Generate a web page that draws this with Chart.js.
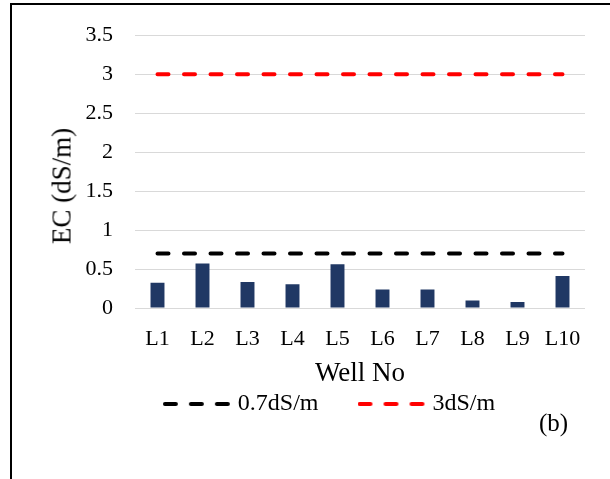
<!DOCTYPE html>
<html>
<head>
<meta charset="utf-8">
<script src="https://cdn.jsdelivr.net/npm/chart.js@4/dist/chart.umd.min.js"></script>
<style>
  html, body { margin: 0; padding: 0; width: 610px; height: 479px; overflow: hidden; background: #fff; }
  #frame { position: absolute; left: 10px; top: 3px; width: 1000px; height: 1000px; border: 2px solid #000; }
  #myChart { position: absolute; left: 45px; top: 0; }
  #tag { position: absolute; left: 539px; top: 409px; font: 25px "Liberation Serif", serif; color: #000; }
  #yTitle {
    position: absolute; left: 62px; top: 186px;
    transform: translate(-50%, -50%) rotate(-90deg);
    font: 27px/1 "Liberation Serif", serif; color: #000; white-space: nowrap;
  }
</style>
</head>
<body>
<div id="frame"></div>
<canvas id="myChart" width="573" height="479"></canvas>
<div id="yTitle">EC (dS/m)</div>
<div id="tag">(b)</div>
<script>
const wells = ["L1", "L2", "L3", "L4", "L5", "L6", "L7", "L8", "L9", "L10"];
const ecValues = [0.325, 0.57, 0.335, 0.305, 0.56, 0.236, 0.236, 0.096, 0.076, 0.41];
const lowLimit = [0.7, 0.7, 0.7, 0.7, 0.7, 0.7, 0.7, 0.7, 0.7, 0.7];
const highLimit = [3, 3, 3, 3, 3, 3, 3, 3, 3, 3];
const yTicks = [0, 0.5, 1, 1.5, 2, 2.5, 3, 3.5];

Chart.defaults.font.family = "'Liberation Serif', 'Times New Roman', serif";
Chart.defaults.color = "#000";

// dashed line sample for the legend
const dashSample = (color) => {
  const c = document.createElement("canvas");
  c.width = 68;
  c.height = 6;
  const g = c.getContext("2d");
  g.strokeStyle = color;
  g.lineWidth = 4;
  g.lineCap = "round";
  g.setLineDash([11, 15]);
  g.beginPath();
  g.moveTo(2, 3);
  g.lineTo(66, 3);
  g.stroke();
  return c;
};

const ctx = document.getElementById("myChart");

const myChart = new Chart(ctx, {
  data: {
    labels: wells,
    datasets: [
      {
        type: "line",
        label: "0.7dS/m",
        data: lowLimit,
        borderColor: "#000",
        borderWidth: 4,
        borderDash: [11, 15.5],
        borderCapStyle: "round",
        pointRadius: 0,
        order: 0,
      },
      {
        type: "line",
        label: "3dS/m",
        data: highLimit,
        borderColor: "#ff0000",
        borderWidth: 4,
        borderDash: [11, 15.5],
        borderCapStyle: "round",
        pointRadius: 0,
        order: 0,
      },
      {
        type: "bar",
        label: "EC",
        data: ecValues,
        backgroundColor: "#203864",
        barPercentage: 0.62,
        categoryPercentage: 0.5,
        order: 1,
      },
    ],
  },
  options: {
    responsive: false,
    animation: false,
    layout: { padding: { left: 0, top: 33, right: 0, bottom: 53 } },
    plugins: {
      tooltip: { enabled: false },
      legend: {
        position: "bottom",
        labels: {
          usePointStyle: true,
          pointStyleWidth: 58,
          padding: 44,
          font: { size: 24 },
          generateLabels: (chart) =>
            chart.data.datasets
              .map((ds, i) => ({ ds, i }))
              .filter(({ ds }) => ds.type === "line")
              .map(({ ds, i }) => ({
                text: ds.label,
                datasetIndex: i,
                pointStyle: dashSample(ds.borderColor),
                fillStyle: ds.borderColor,
                strokeStyle: ds.borderColor,
                lineWidth: 0,
                hidden: false,
              })),
        },
      },
    },
    scales: {
      x: {
        grid: { display: false, drawTicks: false },
        border: { display: false },
        ticks: { padding: 18, font: { size: 22 } },
        title: {
          display: true,
          text: "Well No",
          font: { size: 27, lineHeight: 1 },
          padding: { top: 0, bottom: -39 },
        },
        afterFit: (scale) => { scale.height = 40; },
      },
      y: {
        min: 0,
        max: 3.5,
        grid: { color: "#d9d9d9", lineWidth: 1, drawTicks: false },
        border: { display: false },
        afterBuildTicks: (scale) => { scale.ticks = yTicks.map((v) => ({ value: v })); },
        ticks: { padding: 22, font: { size: 22 }, callback: (v) => String(v) },
        // axis title is the #yTitle element, it sits lower than the plot centre
        title: { display: false },
        afterFit: (scale) => { scale.width = 90; },
      },
      // empty right axis, only keeps the plot clear of the frame edge
      yRight: {
        position: "right",
        grid: { display: false, drawTicks: false },
        border: { display: false },
        ticks: { display: false },
        afterFit: (scale) => { scale.width = 33; },
      },
    },
  },
});
</script>
</body>
</html>
